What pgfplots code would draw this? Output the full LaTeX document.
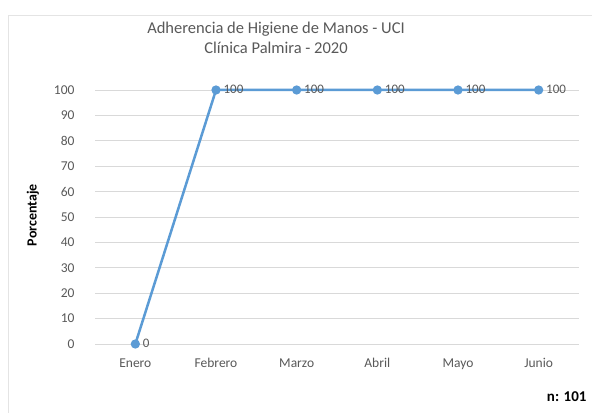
\documentclass[border=0pt]{standalone}
\usepackage{pgfplots}
\pgfplotsset{compat=1.18}
\usepackage{fontspec}
\setmainfont{Carlito}
\definecolor{lineblue}{RGB}{91,155,213}
\definecolor{txtgray}{RGB}{89,89,89}
\definecolor{gridgray}{RGB}{217,217,217}
\begin{document}
\begin{tikzpicture}[x=1pt,y=1pt]
\useasboundingbox (0,0) rectangle (592,413);
\fill[white] (0,0) rectangle (592,413);
\draw[gridgray!70!white,line width=0.8pt] (8,0) -- (8,398) -- (592,398);
\begin{axis}[
  at={(95pt,69pt)}, anchor=south west,
  scale only axis, width=484pt, height=254pt,
  xmin=-0.5, xmax=5.5, ymin=0, ymax=100,
  xtick={0,...,5},
  xticklabels={Enero,Febrero,Marzo,Abril,Mayo,Junio},
  ytick={0,10,...,100},
  ymajorgrids, grid style={gridgray, line width=0.8pt},
  axis line style={draw=none},
  axis x line*=bottom,
  major tick length=0pt,
  tick label style={font=\fontsize{13.5}{15}\selectfont, text=txtgray},
  /pgf/number format/assume math mode=true,
  xticklabel style={yshift=-11pt},
  yticklabel style={xshift=-17pt},
  clip=false,
]
\addplot[lineblue, line width=2.5pt, mark=*, mark size=3.3pt, mark options={fill=lineblue, draw=lineblue},
  nodes near coords, point meta=explicit symbolic,
  every node near coord/.style={anchor=west, xshift=3pt, yshift=0.5pt, font=\fontsize{13}{15}\selectfont, text=txtgray}]
  table[meta=lab] {
x y lab
0 0 0
1 100 100
2 100 100
3 100 100
4 100 100
5 100 100
};
\end{axis}
\node[rotate=90, font=\bfseries\fontsize{14}{16}\selectfont] at (33,198) {Porcentaje};
\node[text=txtgray, align=center, font=\fontsize{16.5}{20}\selectfont] at (276,375) {Adherencia de Higiene de Manos - UCI\\Clínica Palmira - 2020};
\node[anchor=east, font=\bfseries\fontsize{15}{17}\selectfont] at (590,16) {n: 101};
\end{tikzpicture}
\end{document}
